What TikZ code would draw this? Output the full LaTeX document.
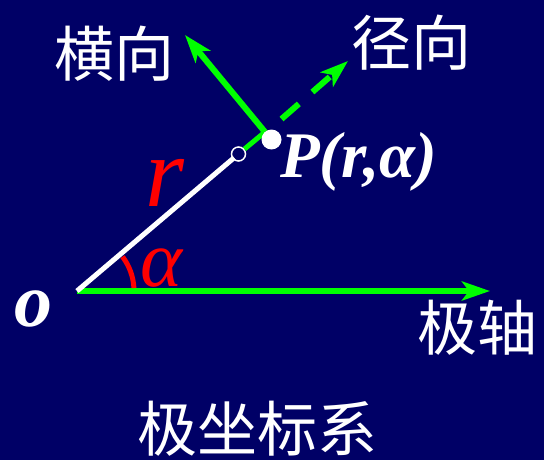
\documentclass[tikz,border=0pt]{standalone}
\usepackage{fontspec}
\setmainfont{Liberation Serif}
\newfontfamily\cjk{Noto Sans CJK SC}
\usetikzlibrary{arrows.meta}
\definecolor{bgblue}{RGB}{0,0,102}
\definecolor{lgreen}{RGB}{0,255,0}
\begin{document}
\begin{tikzpicture}[x=1pt,y=-1pt,
  cjklabel/.style={text=white,inner sep=0pt,font=\cjk\fontsize{60}{60}\selectfont},
  greenline/.style={draw=lgreen,line width=6pt},
  greenarrow/.style={greenline,-{Stealth[length=28pt,width=19pt,inset=7pt]}},
  whiteline/.style={draw=white,line width=5pt}]
\fill[bgblue] (0,0) rectangle (544,460);
\useasboundingbox (0,0) rectangle (544,460);
% points
\coordinate (O) at (77,291);
\coordinate (X) at (490,291);
\coordinate (J) at (265,132);
\coordinate (T) at (185,35);
\coordinate (S) at (281.5,119);
\coordinate (R) at (348,61);
% polar axis
\draw[greenarrow] (O) -- (X);
% radius line
\node[circle,draw=white,line width=1.5pt,fill=bgblue,minimum size=14pt,inner sep=0pt] (C) at (238.5,154) {};
\draw[whiteline,shorten >=-2pt] (O) -- (C);
\draw[greenline,line width=5pt] (C) -- (J);
% transverse arrow
\draw[greenarrow] (J) -- (T);
% radial dashed arrow
\draw[greenarrow,dash pattern=on 23pt off 18pt] (S) -- (R);
% point P
\node[circle,fill=white,minimum size=20pt,inner sep=0pt] (P) at (271.5,139.5) {};
% angle arc
\draw[red,line width=5pt] (O) ++(-3:57) arc[start angle=-3,end angle=-37,radius=57];
% labels
\node[cjklabel] (lh) at (114,54) {横向};
\node[cjklabel] (lj) at (411,43) {径向};
\node[cjklabel] (la) at (477,328) {极轴};
\node[cjklabel] (lt) at (257,429) {极坐标系};
\node[text=white,inner sep=0pt,anchor=base west,font=\bfseries\itshape\fontsize{65}{65}\selectfont] (lp) at (280,177) {P(r,α)};
\node[text=red,inner sep=0pt,anchor=base west,font=\itshape\fontsize{100}{100}\selectfont] (lr) at (145,206) {r};
\node[text=red,inner sep=0pt,anchor=base west,font=\itshape\fontsize{80}{80}\selectfont] (lal) at (140,286) {α};
\node[text=white,inner sep=0pt,anchor=base,font=\bfseries\itshape\fontsize{76}{76}\selectfont] (lo) at (33,326) {o};
\end{tikzpicture}
\end{document}
